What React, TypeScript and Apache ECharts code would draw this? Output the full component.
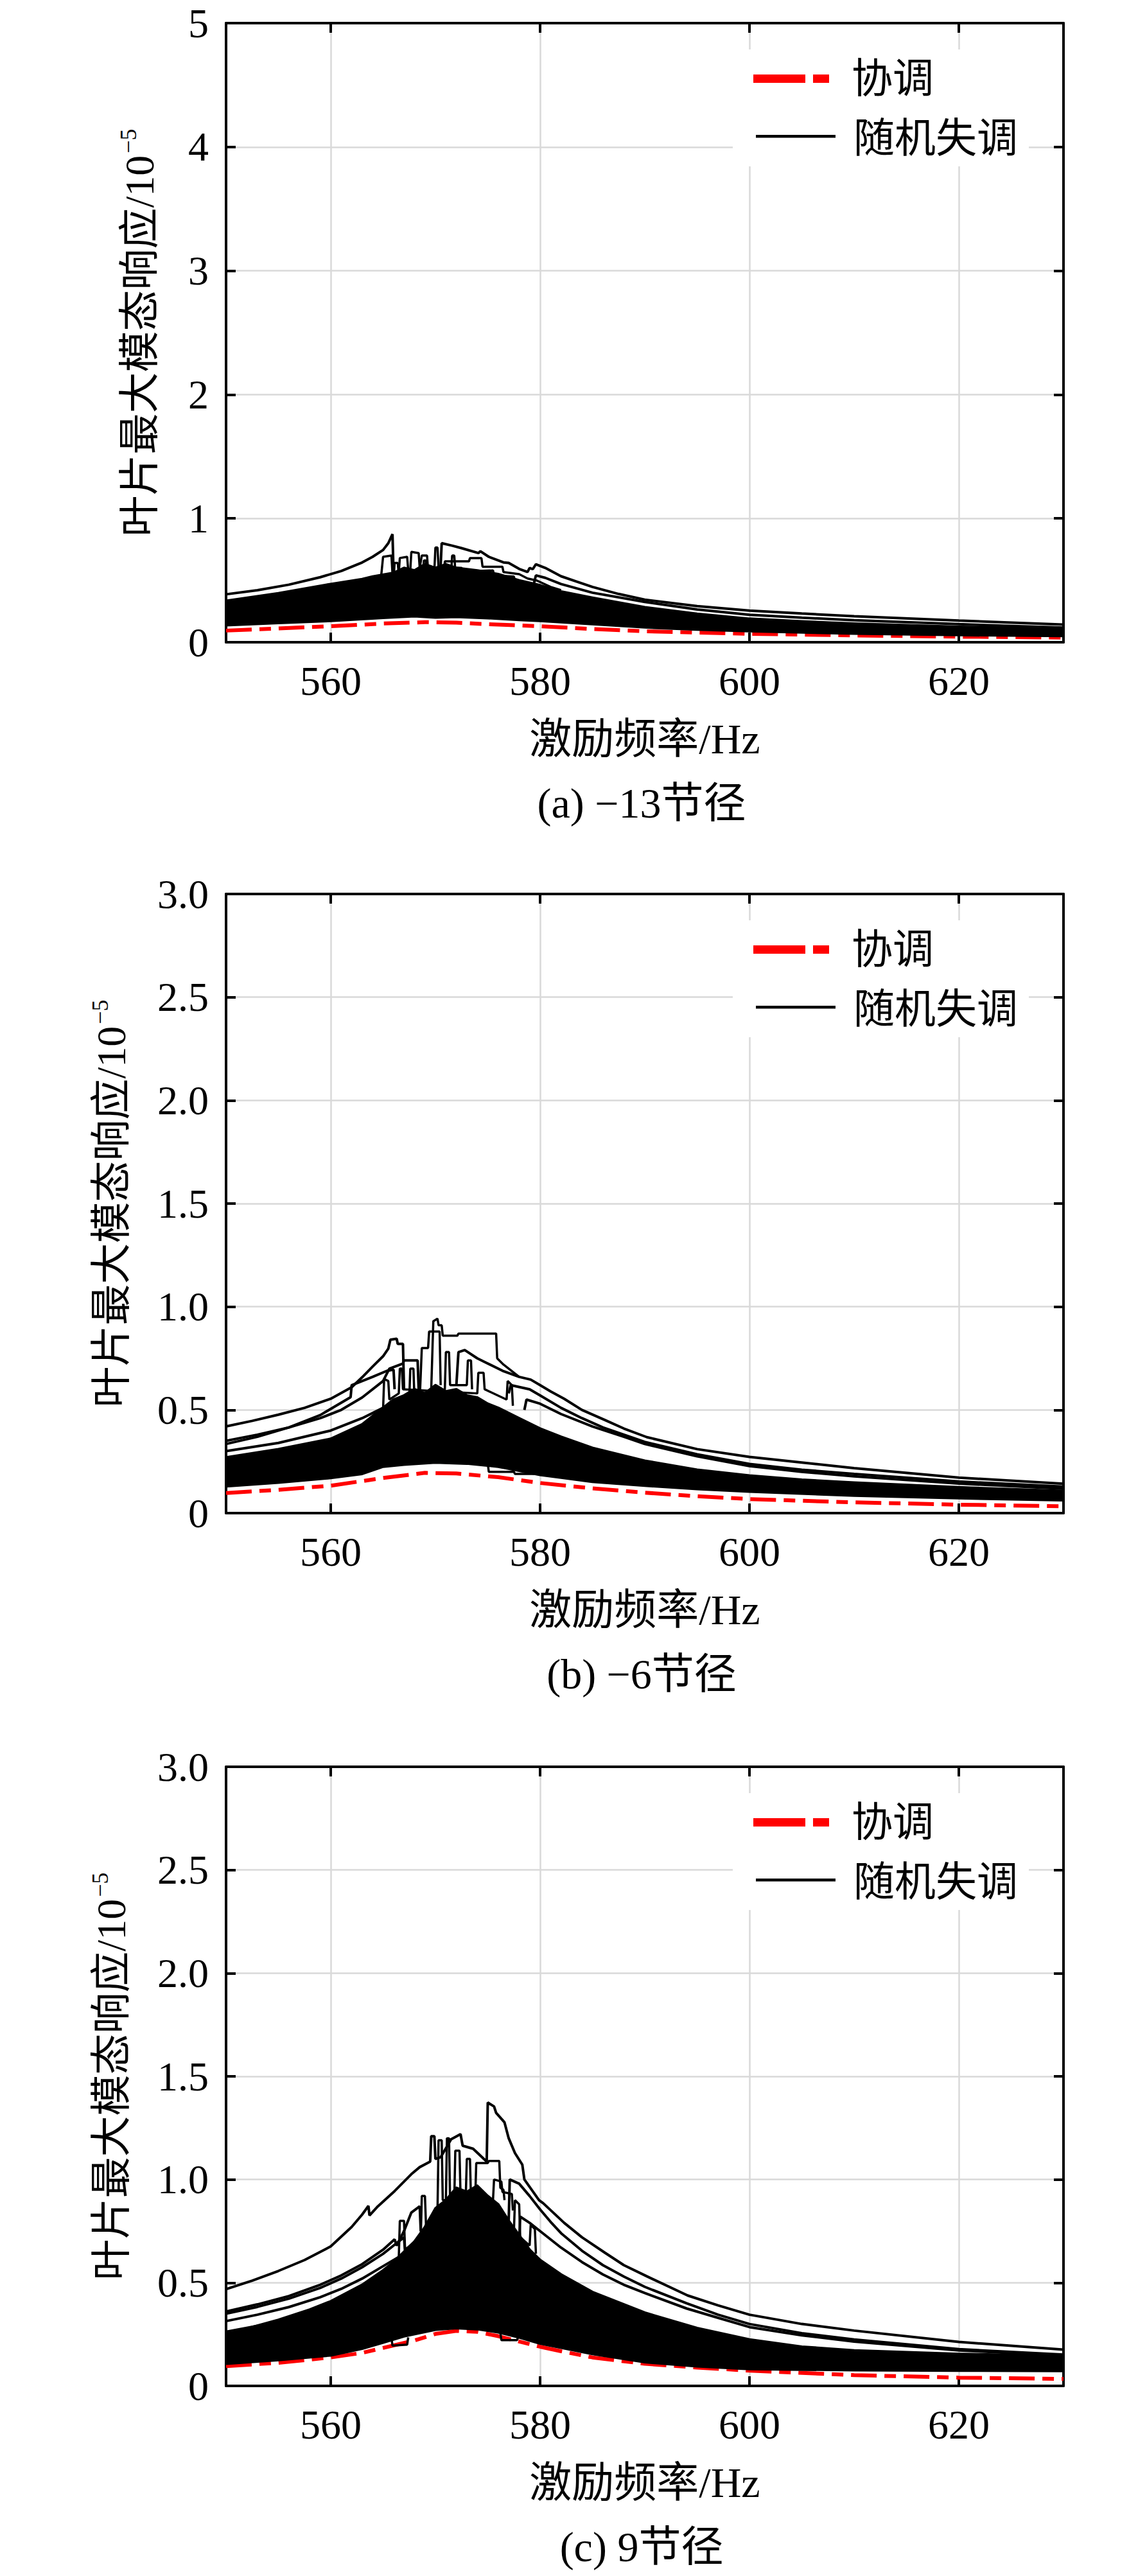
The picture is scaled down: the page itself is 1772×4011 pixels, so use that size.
import React, { useEffect, useRef } from "react";
import * as echarts from "echarts";

// ---------------- axis / text data ----------------
const FREQ_MIN = 550;
const FREQ_MAX = 630;
const xTickValues = [560, 580, 600, 620];
const yMaxes = [5, 3, 3];
const ySteps = [1, 0.5, 0.5];
const captions = ["(a) −13节径", "(b) −6节径", "(c) 9节径"];
const xAxisTitle = "激励频率/Hz";
const yAxisTitleMain = "叶片最大模态响应/10";
const yAxisTitleSup = "−5";
const legendNames = ["协调", "随机失调"];

// ---------------- panel (a) −13 ----------------
const tunedA = [[550,0.094],[555,0.112],[560,0.129],[565,0.151],[569,0.162],[572,0.158],[575,0.146],[580,0.129],[585,0.107],[590,0.089],[595,0.078],[600,0.068],[610,0.055],[620,0.045],[630,0.038]];
const bandUpperA = [[550,0.335],[555,0.395],[560,0.47],[563,0.51],[564,0.53],[566,0.56],[567,0.6],[568,0.58],[569,0.63],[570,0.6],[571,0.63],[572,0.6],[574,0.58],[576,0.55],[578,0.5],[580,0.46],[582,0.41],[585,0.36],[590,0.283],[595,0.23],[600,0.19],[605,0.168],[610,0.15],[620,0.125],[630,0.107]];
const bandLowerA = [[550,0.137],[555,0.155],[560,0.172],[565,0.197],[568,0.21],[570,0.2],[572,0.205],[575,0.195],[578,0.18],[580,0.172],[585,0.146],[590,0.12],[595,0.102],[600,0.089],[610,0.07],[620,0.058],[630,0.05]];
const mistunedA1 = [[550,0.387],[553,0.42],[556,0.465],[559,0.525],[561,0.575],[563,0.644],[564,0.69],[565,0.745],[565.5,0.8],[565.9,0.873],[566.0,0.56],[567,0.57]];
const mistunedA2 = [[570.5,0.62],[570.6,0.8],[571.6,0.78],[572.5,0.76],[574.1,0.72],[574.3,0.735],[575.1,0.69],[576.5,0.645],[577,0.64],[578,0.592],[578.8,0.567],[579,0.6],[579.3,0.59],[579.6,0.63],[580.5,0.6],[582,0.533],[583.5,0.49],[585,0.447],[587.5,0.39],[590,0.344],[595,0.292],[600,0.255],[605,0.232],[610,0.21],[620,0.175],[630,0.142]];
const mistunedA3 = [[579.4,0.47],[579.6,0.54],[580.5,0.52],[582,0.47],[585,0.4],[590,0.325],[595,0.265],[600,0.222],[605,0.198],[610,0.178],[620,0.146],[630,0.118]];
const spikeA1 = [[564.8,0.52],[565.0,0.69],[565.8,0.7],[565.9,0.55],[566.5,0.56],[566.6,0.68],[567.3,0.69],[567.4,0.58],[567.6,0.58],[567.7,0.73],[568.4,0.72],[568.5,0.6]];
const spikeA2 = [[568.5,0.6],[568.7,0.7],[569.2,0.7],[569.3,0.58],[569.9,0.58],[570.0,0.765],[570.2,0.765],[570.3,0.6],[571,0.6]];
const spikeA3 = [[566,0.5],[566.1,0.64],[566.4,0.64],[566.5,0.55],[568.8,0.55],[568.9,0.66],[569.1,0.66],[569.2,0.56],[571.5,0.56],[571.6,0.7],[571.8,0.7],[571.9,0.58]];
const stepA1 = [[570.8,0.55],[570.9,0.653],[573.2,0.653],[573.3,0.679],[574.4,0.679],[574.5,0.61],[576.4,0.61],[576.5,0.567],[578,0.55],[578.8,0.515],[579.7,0.498],[581,0.447],[582,0.42]];
const stepA2 = [[571,0.5],[571.2,0.6],[572.5,0.6],[572.6,0.57],[575.5,0.58],[575.6,0.54],[577.5,0.53],[577.6,0.49],[579,0.47]];

// ---------------- panel (b) −6 ----------------
const tunedB = [[550,0.097],[555,0.113],[560,0.133],[565,0.17],[569,0.195],[572,0.192],[576,0.174],[580,0.146],[585,0.12],[590,0.099],[595,0.082],[600,0.068],[610,0.052],[620,0.041],[630,0.033]];
const bandUpperB = [[550,0.27],[555,0.31],[560,0.36],[563,0.43],[565,0.51],[566,0.55],[567,0.57],[568,0.6],[569,0.58],[570,0.62],[571,0.59],[572,0.6],[573,0.57],[574,0.56],[575,0.53],[576,0.51],[578,0.46],[580,0.41],[582,0.37],[585,0.316],[590,0.254],[595,0.21],[600,0.182],[605,0.162],[610,0.148],[620,0.125],[630,0.107]];
const bandLowerB = [[550,0.13],[555,0.148],[560,0.17],[563,0.19],[565,0.225],[567,0.235],[570,0.245],[573,0.24],[576,0.225],[578,0.205],[580,0.185],[582,0.172],[585,0.152],[590,0.133],[595,0.117],[600,0.104],[610,0.085],[620,0.072],[630,0.062]];
const mistunedB1 = [[550,0.42],[552.5,0.447],[555,0.477],[557.5,0.51],[560,0.554],[562,0.61],[563,0.658],[564,0.71],[565,0.76],[565.5,0.797],[565.7,0.84],[566.3,0.845],[566.4,0.82],[566.9,0.82],[567,0.6]];
const mistunedB2 = [[572,0.62],[572.2,0.78],[572.8,0.79],[574,0.75],[574.8,0.73],[576.4,0.69],[578,0.66],[579.1,0.647],[580,0.62],[581,0.59],[582.3,0.554],[584,0.5],[586.2,0.451],[588,0.41],[590.2,0.368],[595,0.31],[600,0.272],[605,0.245],[610,0.218],[620,0.172],[630,0.142]];
const mistunedB3 = [[577,0.58],[577.2,0.62],[579,0.6],[580,0.57],[582,0.51],[584,0.46],[586,0.415],[588,0.38],[590,0.345],[595,0.285],[600,0.238],[605,0.21],[610,0.19],[620,0.153],[630,0.128]];
const mistunedB4 = [[578.5,0.5],[578.7,0.55],[580,0.53],[582,0.48],[585,0.42],[588,0.37],[590,0.335],[595,0.275],[600,0.228],[605,0.2],[610,0.178],[620,0.143],[630,0.118]];
const mistunedB5 = [[550,0.35],[553,0.38],[556,0.415],[559,0.46],[561,0.5],[563,0.56],[565,0.64],[565.6,0.7],[566.9,0.725],[567,0.74],[568.3,0.74],[568.4,0.6]];
const mistunedB6 = [[550,0.335],[553,0.37],[556,0.415],[559,0.475],[561.9,0.562],[562,0.62],[564,0.66],[565.4,0.69],[566,0.695],[566.1,0.6]];
const mistunedB7 = [[550,0.3],[555,0.34],[560,0.4],[563,0.46],[565,0.51],[567,0.56],[568,0.58]];
const spikeB1 = [[569.6,0.6],[569.8,0.93],[570.2,0.942],[570.3,0.91],[570.6,0.91],[570.7,0.86],[572.1,0.86],[572.2,0.87],[575.8,0.87],[575.9,0.75],[576.5,0.72],[578,0.66]];
const spikeB2 = [[568.5,0.55],[568.7,0.8],[569.3,0.8],[569.4,0.88],[570.4,0.88],[570.5,0.62]];
const spikeB3 = [[567.5,0.55],[567.6,0.7],[567.9,0.7],[568.0,0.55],[570.9,0.6],[571.0,0.78],[571.3,0.78],[571.4,0.62],[573,0.62],[573.1,0.74],[573.4,0.74],[573.5,0.6]];
const spikeB4 = [[565,0.5],[565.1,0.65],[565.5,0.64],[565.6,0.55],[566.5,0.58],[566.6,0.7],[566.8,0.7],[566.9,0.6],[574,0.58],[574.1,0.68],[574.6,0.68],[574.7,0.6],[576.8,0.55],[576.9,0.64],[577.3,0.62],[577.4,0.52]];
const stepB1 = [[575,0.24],[575.1,0.2],[577.5,0.2],[577.6,0.19],[579.4,0.19],[579.5,0.23]];

// ---------------- panel (c) 9 ----------------
const tunedC = [[550,0.096],[555,0.112],[560,0.138],[563,0.16],[565,0.184],[568,0.22],[570,0.252],[572,0.267],[574,0.262],[576,0.241],[578,0.215],[580,0.19],[582,0.168],[585,0.138],[590,0.107],[595,0.089],[600,0.074],[610,0.052],[620,0.04],[630,0.034]];
const bandUpperC = [[550,0.25],[555,0.32],[558,0.37],[560,0.41],[563,0.49],[565,0.56],[566,0.6],[567,0.65],[568,0.7],[569,0.77],[570,0.86],[571,0.9],[572,0.96],[573,0.94],[574,0.97],[575,0.92],[576,0.88],[577,0.8],[578,0.73],[579,0.66],[580,0.61],[582,0.54],[585,0.455],[590,0.355],[595,0.28],[600,0.225],[605,0.19],[610,0.172],[620,0.155],[630,0.145]];
const bandLowerC = [[550,0.107],[555,0.125],[560,0.148],[563,0.18],[565,0.21],[567,0.24],[570,0.272],[572,0.28],[574,0.275],[576,0.26],[578,0.235],[580,0.205],[582,0.185],[585,0.155],[590,0.115],[595,0.095],[600,0.082],[610,0.076],[620,0.074],[630,0.072]];
const mistunedC1 = [[550,0.469],[552.5,0.51],[555,0.557],[557.5,0.61],[560,0.676],[562,0.77],[563,0.83],[563.6,0.872],[563.7,0.826],[564.5,0.87],[566.1,0.944],[567,0.99],[567.7,1.026],[568.5,1.06],[569.5,1.087],[569.6,1.21],[569.9,1.21],[570,1.1],[570.5,1.108],[571.5,1.195],[572.4,1.22],[572.6,1.164],[573.6,1.149],[574.9,1.087],[575.0,1.373],[575.6,1.354],[575.8,1.323],[576.6,1.277],[577,1.2],[577.6,1.128],[578.3,1.072],[578.5,1.0],[579.9,0.9],[580.3,0.885],[582.3,0.79],[584,0.72],[586.2,0.645],[588,0.585],[590.2,0.531],[594.1,0.438],[597,0.39],[600,0.345],[605,0.3],[610,0.268],[620,0.213],[630,0.176]];
const mistunedC2 = [[577.0,0.8],[577.1,1.0],[578,0.98],[579,0.92],[580,0.855],[581,0.795],[582,0.74],[584,0.655],[586,0.585],[588,0.53],[590,0.48],[594,0.4],[597,0.345],[600,0.3],[605,0.255],[610,0.225],[620,0.178],[630,0.152]];
const mistunedC3 = [[578,0.7],[578.1,0.82],[579,0.79],[580,0.75],[582,0.67],[584,0.6],[586,0.54],[588,0.49],[590,0.45],[594,0.375],[597,0.33],[600,0.285],[605,0.245],[610,0.215],[620,0.172],[630,0.147]];
const mistunedC4 = [[550,0.36],[553,0.395],[556,0.435],[559,0.49],[561,0.535],[563,0.59],[565,0.66],[566.1,0.71],[566.3,0.68],[567,0.75],[567.7,0.84],[568.5,0.87],[568.6,0.75]];
const mistunedC5 = [[550,0.35],[553,0.383],[556,0.423],[559,0.475],[561,0.52],[563,0.575],[565,0.64],[566,0.68],[567,0.72],[567.1,0.65]];
const mistunedC6 = [[550,0.314],[553,0.345],[556,0.382],[559,0.43],[561,0.47],[563,0.52],[565,0.58],[567,0.64],[568,0.67]];
const mistunedC7 = [[550,0.262],[555,0.31],[560,0.38],[563,0.44],[565,0.49],[567,0.55]];
const spikeC1 = [[570.2,0.85],[570.3,1.19],[570.6,1.19],[570.7,0.9],[571.0,0.9],[571.1,1.2],[571.3,1.2],[571.4,0.9]];
const spikeC2 = [[571.8,0.9],[571.9,1.14],[572.3,1.14],[572.4,0.92],[572.9,0.92],[573.0,1.1],[573.3,1.1],[573.4,0.9]];
const spikeC3 = [[573.8,0.9],[573.9,1.08],[575.0,1.08],[575.1,1.09],[576.1,1.09],[576.2,0.96],[576.5,0.95],[576.6,0.9]];
const spikeC4 = [[575.5,0.9],[575.6,1.0],[576.3,0.99],[576.4,0.94],[577.3,0.93],[577.4,0.85]];
const spikeC5 = [[566.5,0.62],[566.6,0.8],[567,0.8],[567.1,0.66],[568.6,0.72],[568.7,0.92],[569,0.92],[569.1,0.78]];
const spikeC6 = [[577.5,0.75],[577.6,0.9],[578,0.88],[578.1,0.72],[579,0.68],[579.1,0.78],[579.5,0.76],[579.6,0.64]];
const stepC1 = [[565.8,0.23],[565.9,0.195],[567.3,0.2],[567.4,0.235]];
const stepC2 = [[576.2,0.26],[576.3,0.222],[577.8,0.222],[577.9,0.235]];

// ---------------- layout ----------------
const W = 1772;
const H = 4011;
const GRID_LEFT = 352;
const GRID_WIDTH = 1304;
const GRID_HEIGHT = 964;
const GRID_TOPS = [36, 1392, 2751];
const FONT = '"Liberation Serif", "Times New Roman", "Noto Sans CJK SC", serif';

const panels = [
  { tuned: tunedA, upper: bandUpperA, lower: bandLowerA, lines: [mistunedA1, mistunedA2, mistunedA3], thin: [spikeA1, spikeA2, spikeA3, stepA1, stepA2] },
  { tuned: tunedB, upper: bandUpperB, lower: bandLowerB, lines: [mistunedB1, mistunedB2, mistunedB3, mistunedB4, mistunedB5, mistunedB6, mistunedB7], thin: [spikeB1, spikeB2, spikeB3, spikeB4, stepB1] },
  { tuned: tunedC, upper: bandUpperC, lower: bandLowerC, lines: [mistunedC1, mistunedC2, mistunedC3, mistunedC4, mistunedC5, mistunedC6, mistunedC7], thin: [spikeC1, spikeC2, spikeC3, spikeC4, spikeC5, spikeC6, stepC1, stepC2] },
];

function buildOption() {
  const grid: any[] = [];
  const xAxis: any[] = [];
  const yAxis: any[] = [];
  const series: any[] = [];
  const graphic: any[] = [];

  const axisLine = { show: true, onZero: false, lineStyle: { color: "#000", width: 4 } };
  const tickIn = { show: true, inside: true, length: 15, lineStyle: { color: "#000", width: 4 } };

  panels.forEach((p, i) => {
    const top = GRID_TOPS[i];
    grid.push({ left: GRID_LEFT, top, width: GRID_WIDTH, height: GRID_HEIGHT });
    const yFmt = (v: number) => (i === 0 ? String(v) : v === 0 ? "0" : v.toFixed(1));
    xAxis.push({
      type: "value", gridIndex: i, min: FREQ_MIN, max: FREQ_MAX, position: "bottom",
      axisLine, axisTick: { ...tickIn, customValues: xTickValues },
      axisLabel: { customValues: xTickValues, color: "#000", fontSize: 64, fontFamily: FONT, margin: 28 },
      splitLine: { show: true, lineStyle: { color: "#d9d9d9", width: 2.5 } },
      name: xAxisTitle, nameLocation: "middle", nameGap: 117,
      nameTextStyle: { color: "#000", fontSize: 66, fontFamily: FONT },
    });
    xAxis.push({
      type: "value", gridIndex: i, min: FREQ_MIN, max: FREQ_MAX, position: "top",
      axisLine, axisTick: { ...tickIn, customValues: xTickValues },
      axisLabel: { show: false }, splitLine: { show: false },
    });
    yAxis.push({
      type: "value", gridIndex: i, min: 0, max: yMaxes[i], interval: ySteps[i], position: "left",
      axisLine, axisTick: tickIn,
      axisLabel: { color: "#000", fontSize: 64, fontFamily: FONT, margin: 27, formatter: yFmt },
      splitLine: { show: true, lineStyle: { color: "#d9d9d9", width: 2.5 } },
      name: `{t|${yAxisTitleMain}}{s|${yAxisTitleSup}}`, nameLocation: "middle", nameGap: i === 0 ? 100 : 144,
      nameTextStyle: {
        rich: {
          t: { fontSize: 64, fontFamily: FONT, color: "#000", lineHeight: 70 },
          s: { fontSize: 36, fontFamily: FONT, color: "#000", lineHeight: 70, verticalAlign: "top", padding: [0, 0, 0, 3] },
        },
      },
    });
    yAxis.push({
      type: "value", gridIndex: i, min: 0, max: yMaxes[i], interval: ySteps[i], position: "right",
      axisLine, axisTick: tickIn, axisLabel: { show: false }, splitLine: { show: false },
    });

    const xi = 2 * i;
    series.push({
      type: "line", name: legendNames[0], xAxisIndex: xi, yAxisIndex: xi, data: p.tuned,
      symbol: "none", showSymbol: false, silent: true, clip: true, z: 2,
      lineStyle: { color: "#ff0000", width: 6, type: [40, 12, 18, 12], cap: "butt" },
    });
    const up = p.upper;
    const lo = p.lower;
    series.push({
      type: "custom", name: legendNames[1], xAxisIndex: xi, yAxisIndex: xi, data: [[FREQ_MIN, 0]],
      silent: true, clip: true, z: 3,
      renderItem: (_params: any, api: any) => {
        const pts = up.map((q) => api.coord(q)).concat(lo.slice().reverse().map((q) => api.coord(q)));
        return { type: "polygon", shape: { points: pts }, style: { fill: "#000", stroke: "#000", lineWidth: 4, lineJoin: "round" } };
      },
    });
    p.lines.forEach((d) => {
      series.push({
        type: "line", name: legendNames[1], xAxisIndex: xi, yAxisIndex: xi, data: d,
        symbol: "none", showSymbol: false, silent: true, clip: true, z: 4,
        lineStyle: { color: "#000", width: 4 },
      });
    });
    p.thin.forEach((d) => {
      series.push({
        type: "line", name: legendNames[1], xAxisIndex: xi, yAxisIndex: xi, data: d,
        symbol: "none", showSymbol: false, silent: true, clip: true, z: 4,
        lineStyle: { color: "#000", width: 3.5 },
      });
    });

    // legend box
    graphic.push({ type: "rect", z: 50, shape: { x: 1141, y: top + 41, width: 461, height: 182 }, style: { fill: "#fff" } });
    graphic.push({ type: "rect", z: 51, shape: { x: 1173, y: top + 80, width: 81, height: 13 }, style: { fill: "#ff0000" } });
    graphic.push({ type: "rect", z: 51, shape: { x: 1266, y: top + 80, width: 25, height: 13 }, style: { fill: "#ff0000" } });
    graphic.push({ type: "rect", z: 51, shape: { x: 1177, y: top + 174, width: 124, height: 4.5 }, style: { fill: "#000" } });
    graphic.push({
      type: "text", z: 51, x: 1326, y: top + 86,
      style: { text: legendNames[0], fontSize: 64, fontFamily: FONT, fill: "#000", textAlign: "left", textVerticalAlign: "middle", align: "left", verticalAlign: "middle" },
    });
    graphic.push({
      type: "text", z: 51, x: 1329, y: top + 179,
      style: { text: legendNames[1], fontSize: 64, fontFamily: FONT, fill: "#000", textAlign: "left", textVerticalAlign: "middle", align: "left", verticalAlign: "middle" },
    });
    // caption
    graphic.push({
      type: "text", z: 51, x: 999, y: top + GRID_HEIGHT + 250,
      style: { text: captions[i], fontSize: 66, fontFamily: FONT, fill: "#000", textAlign: "center", textVerticalAlign: "middle", align: "center", verticalAlign: "middle" },
    });
  });

  return { animation: false, backgroundColor: "#fff", grid, xAxis, yAxis, series, graphic };
}

export default function App() {
  const ref = useRef<HTMLDivElement>(null);
  useEffect(() => {
    if (!ref.current) return;
    const chart = echarts.init(ref.current, null, { renderer: "svg", width: W, height: H });
    chart.setOption(buildOption() as any);
    return () => chart.dispose();
  }, []);
  return <div ref={ref} style={{ position: "absolute", left: 0, top: 0, width: W, height: H, background: "#fff" }} />;
}
